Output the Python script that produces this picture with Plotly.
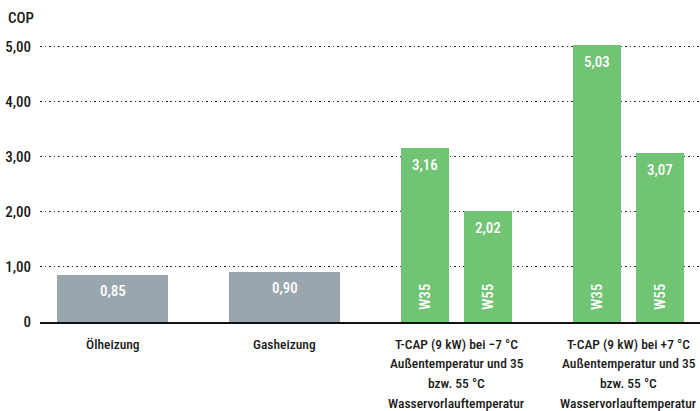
import plotly.graph_objects as go

# ---- data ----
categories = [
    "Ölheizung",
    "Gasheizung",
    "T-CAP (9 kW) bei \u22127 °C<br>Außentemperatur und 35<br>bzw. 55 °C<br>Wasservorlauftemperatur",
    "T-CAP (9 kW) bei +7 °C<br>Außentemperatur und 35<br>bzw. 55 °C<br>Wasservorlauftemperatur",
]
single_idx = [0, 1]
single_values = [0.85, 0.90]
group_idx = [2, 3]
w35_values = [3.16, 5.03]
w55_values = [2.02, 3.07]
series_names = ["W35", "W55"]
y_tickvals = [0, 1, 2, 3, 4, 5]
y_ticktext = ["0", "1,00", "2,00", "3,00", "4,00", "5,00"]
y_title = "COP"

# ---- style ----
FONT = "Roboto Condensed, DejaVu Sans Condensed, sans-serif"
GRAY = "#9aa6ae"
GREEN = "#70c474"
TXT = "#1a1a1a"
GROUP_W = 0.645
BAR_W = 0.279
LINE_GAP = 19.7

def fmt(v):
    return f"{v:.2f}".replace(".", ",")

def tfont(size, color=TXT):
    return dict(size=size, family=FONT, color=color, weight=500)

fig = go.Figure()
fig.add_trace(go.Bar(x=single_idx, y=single_values, width=GROUP_W, offset=-GROUP_W / 2,
                     marker=dict(color=GRAY, line=dict(width=0)), showlegend=False, hoverinfo="y"))
fig.add_trace(go.Bar(x=group_idx, y=w35_values, width=BAR_W, offset=-GROUP_W / 2,
                     marker=dict(color=GREEN, line=dict(width=0)), showlegend=False, hoverinfo="y"))
fig.add_trace(go.Bar(x=group_idx, y=w55_values, width=BAR_W, offset=GROUP_W / 2 - BAR_W,
                     marker=dict(color=GREEN, line=dict(width=0)), showlegend=False, hoverinfo="y"))

annotations = []
for xi, v in zip(single_idx, single_values):
    annotations.append(dict(x=xi, y=v, text=fmt(v), showarrow=False, yanchor="middle",
                            yshift=-16, font=tfont(15, "white")))
for vals, name, off in [(w35_values, series_names[0], -GROUP_W / 2 + BAR_W / 2),
                        (w55_values, series_names[1], GROUP_W / 2 - BAR_W / 2)]:
    for xi, v in zip(group_idx, vals):
        annotations.append(dict(x=xi + off, y=v, text=fmt(v), showarrow=False, yanchor="middle",
                                yshift=-17, font=tfont(15, "white")))
        annotations.append(dict(x=xi + off, y=0, text=name, showarrow=False, yanchor="bottom",
                                textangle=-90, yshift=10, font=tfont(15, "white")))

# category labels (one annotation per line, to keep the original line spacing)
for xi, cat in enumerate(categories):
    for li, line in enumerate(cat.split("<br>")):
        annotations.append(dict(x=xi, y=0, text=line, showarrow=False, yanchor="middle",
                                yshift=-21.5 - li * LINE_GAP, font=tfont(13.5)))

fig.update_layout(
    width=700, height=411,
    margin=dict(l=40, r=0, t=31, b=89),
    paper_bgcolor="white", plot_bgcolor="white",
    font=dict(family=FONT, size=15, color=TXT),
    bargap=0,
    title=dict(text=y_title, xref="container", yref="container", x=8 / 700, xanchor="left",
               y=1 - 18 / 411, yanchor="middle", font=tfont(15)),
    annotations=annotations,
    xaxis=dict(
        range=[-0.4215, 3.4157],
        tickvals=list(range(len(categories))),
        showticklabels=False,
        showgrid=False, zeroline=False,
        showline=True, linecolor="#111111", linewidth=2,
        ticks="",
    ),
    yaxis=dict(
        range=[0, 5.29],
        tickvals=y_tickvals, ticktext=y_ticktext,
        showgrid=True, gridcolor="#333333", gridwidth=1.3, griddash="1.5px,3px",
        zeroline=False, showline=False, ticks="",
        ticklabelstandoff=8,
        tickfont=tfont(15),
    ),
)

fig.write_html(
    "out.html",
    config={"displayModeBar": False},
    post_script="document.body.style.margin='0';document.body.style.overflow='hidden';",
)
